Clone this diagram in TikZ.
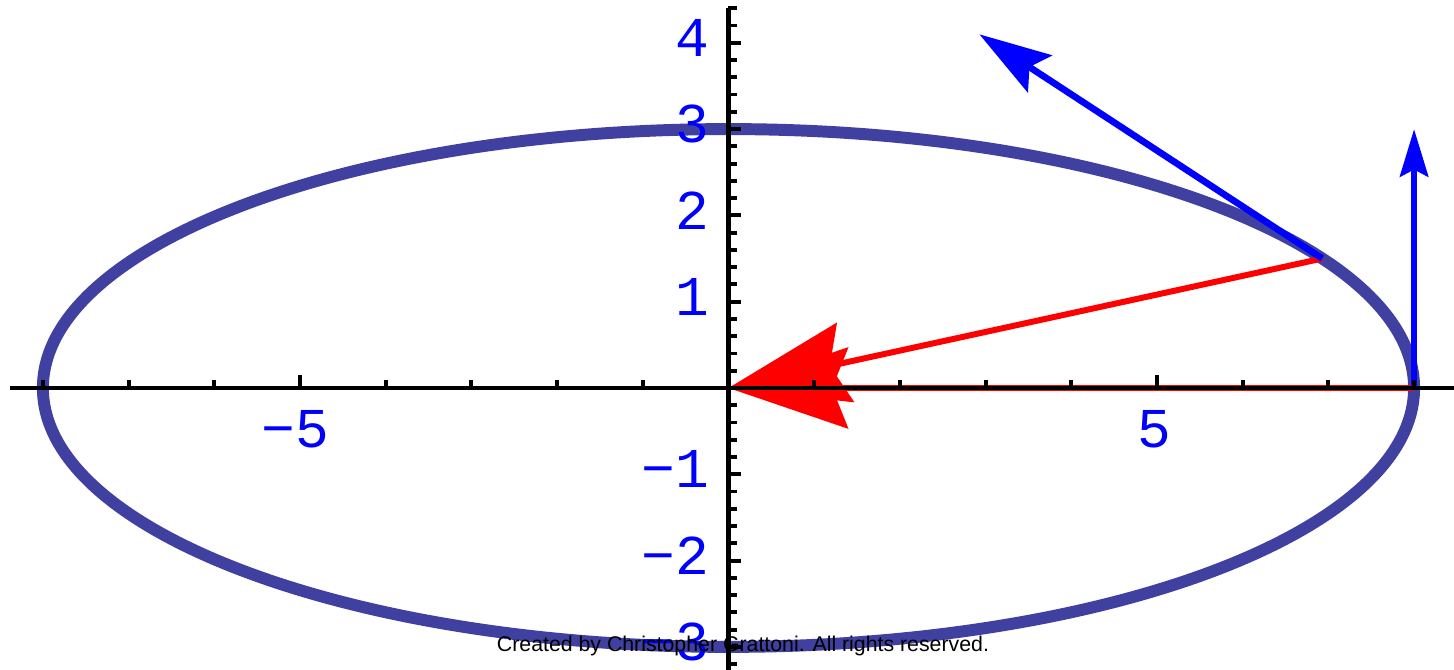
\documentclass[tikz,border=0pt]{standalone}
\usepackage{fontspec}
\setmainfont{Liberation Sans}
\newfontfamily\tickfont{Liberation Mono}
\usetikzlibrary{arrows.meta}
\definecolor{ellcol}{RGB}{64,64,160}
\definecolor{redc}{RGB}{255,0,0}
\definecolor{bluec}{RGB}{0,0,255}
\begin{document}
\begin{tikzpicture}[x=0.857cm,y=0.863cm,
  axisline/.style={line width=1.3pt, black},
  tickline/.style={line width=1.1pt, black},
  ellpath/.style={draw=ellcol, line width=3.4pt},
  redarr/.style={draw=redc, line width=1.7pt, -{Stealth[length=34pt,width=23pt,inset=4.5pt]}},
  bluearrA/.style={draw=bluec, line width=1.9pt, -{Stealth[length=20.5pt,width=12.5pt,inset=3.5pt]}},
  bluearrB/.style={draw=bluec, line width=1.9pt, -{Stealth[length=13.5pt,width=8pt,inset=2pt]}},
  tickl/.style={font=\tickfont\fontsize{16}{16}\selectfont, text=bluec, inner sep=0pt},
  credit/.style={font=\fontsize{6.06}{7}\selectfont, text=black, inner sep=0pt, anchor=base}]
\useasboundingbox (-8.5006,-3.2677) rectangle (8.4656,4.4960);
% ellipse
\draw[ellpath] (0,0) ellipse [x radius=8, y radius=3];
% points
\coordinate (O) at (0,0);
\coordinate (P) at (6.928,1.5);
\coordinate (Q) at (8,0);
\coordinate (V1) at (2.928,4.098);
\coordinate (V2) at (8,3);
% acceleration vectors
\draw[redarr] (P) -- (O);
\draw[redarr] (Q) -- (O);
% velocity vectors
\draw[bluearrA] (P) -- (V1);
\draw[bluearrB] (Q) -- (V2);
% axes
\coordinate (xl) at (-8.38,0);
\coordinate (xr) at (8.4656,0);
\coordinate (yb) at (0,-3.2677);
\coordinate (yt) at (0,4.40);
\draw[axisline] (xl) -- (xr);
\draw[axisline] (yb) -- (yt);
% x ticks
\foreach \i in {-8,...,8} {
  \draw[tickline] (\i,0) -- ++(0,0.095);
}
\foreach \i in {-5,5} {
  \draw[tickline] (\i,0) -- ++(0,0.15);
}
% y ticks
\foreach \j in {-16,...,22} {
  \draw[tickline] (0,\j/5) -- ++(0.095,0);
}
\foreach \j in {-3,...,4} {
  \draw[tickline] (0,\j) -- ++(0.15,0);
}
% tick labels
\node[tickl] (lxm5) at (-5.05,-0.475) {−5};
\node[tickl] (lx5) at (4.97,-0.475) {5};
\node[tickl, anchor=east] (ly4) at (-0.22,4.06) {4};
\node[tickl, anchor=east] (ly3) at (-0.22,3.06) {3};
\node[tickl, anchor=east] (ly2) at (-0.22,2.06) {2};
\node[tickl, anchor=east] (ly1) at (-0.22,1.06) {1};
\node[tickl, anchor=east] (lym1) at (-0.22,-0.94) {−1};
\node[tickl, anchor=east] (lym2) at (-0.22,-1.94) {−2};
\node[tickl, anchor=east] (lym3) at (-0.22,-2.94) {−3};
% credit
\node[credit] (cr) at (0.169,-3.059) {Created by Christopher Grattoni. All rights reserved.};
\end{tikzpicture}
\end{document}
